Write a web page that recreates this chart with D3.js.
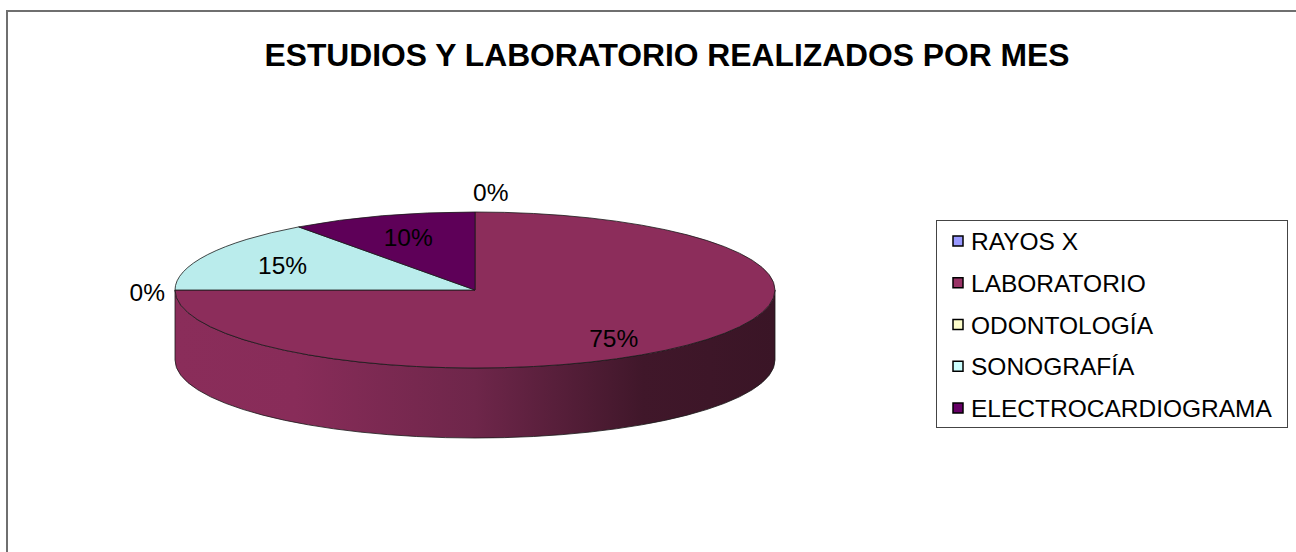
<!DOCTYPE html>
<meta charset="utf-8">
<script src="https://d3js.org/d3.v7.min.js"></script>
<style>
  body { margin: 0; background: #fff; }
  text { font-family: "Liberation Sans", Arial, sans-serif; }
</style>
<div id="chart"></div>
<script>
// data
var categories = ["RAYOS X", "LABORATORIO", "ODONTOLOGÍA", "SONOGRAFÍA", "ELECTROCARDIOGRAMA"];
var values = [0, 75, 0, 15, 10];
var colors = ["#9999FF", "#8C2D5B", "#FFFFCC", "#BAECEC", "#5E0058"];
var legendColors = ["#9999FF", "#993366", "#FFFFCC", "#CCFFFF", "#660066"];

var W = 1296, H = 552;
var cx = 475, cy = 290, rx = 300, ry = 78, depth = 70;

var svg = d3.select("#chart").append("svg")
    .attr("width", W).attr("height", H);

// outer frame (runs past the right and bottom edges)
svg.append("path")
    .attr("d", "M7,560 L7,11 L1300,11")
    .attr("fill", "none").attr("stroke", "#6f6f6f").attr("stroke-width", 2);

svg.append("text")
    .attr("x", 667).attr("y", 66)
    .attr("text-anchor", "middle")
    .style("font-size", "31.8px").style("font-weight", "bold")
    .text("ESTUDIOS Y LABORATORIO REALIZADOS POR MES");

// side gradient
var defs = svg.append("defs");
var grad = defs.append("linearGradient").attr("id", "side")
    .attr("gradientUnits", "userSpaceOnUse")
    .attr("x1", cx - rx).attr("x2", cx + rx).attr("y1", 0).attr("y2", 0);
grad.append("stop").attr("offset", "0%").attr("stop-color", "#8A2D5A");
grad.append("stop").attr("offset", "20%").attr("stop-color", "#882C59");
grad.append("stop").attr("offset", "50%").attr("stop-color", "#6E264A");
grad.append("stop").attr("offset", "78%").attr("stop-color", "#40172A");
grad.append("stop").attr("offset", "100%").attr("stop-color", "#3A1526");

var pie = d3.pie().sort(null).value(function(d) { return d; });
var arcs = pie(values);

function px(a, k) { return cx + rx * (k || 1) * Math.sin(a); }
function py(a, k) { return cy - ry * (k || 1) * Math.cos(a); }

// side walls (only the front half, angles pi/2..3pi/2)
var g = svg.append("g");
arcs.forEach(function(d, i) {
  if (d.value === 0) return;
  var a0 = Math.max(d.startAngle, Math.PI / 2);
  var a1 = Math.min(d.endAngle, 3 * Math.PI / 2);
  if (a1 <= a0) return;
  var large = (a1 - a0) > Math.PI ? 1 : 0;
  var p = "M" + px(a0) + "," + py(a0) +
    " A" + rx + "," + ry + " 0 " + large + " 1 " + px(a1) + "," + py(a1) +
    " L" + px(a1) + "," + (py(a1) + depth) +
    " A" + rx + "," + ry + " 0 " + large + " 0 " + px(a0) + "," + (py(a0) + depth) + " Z";
  g.append("path").attr("d", p)
    .attr("fill", i === 1 ? "url(#side)" : colors[i])
    .attr("stroke", "#1a1a1a").attr("stroke-width", 0.8);
});

// top faces
arcs.forEach(function(d, i) {
  if (d.value === 0) return;
  var large = (d.endAngle - d.startAngle) > Math.PI ? 1 : 0;
  var p = "M" + cx + "," + cy +
    " L" + px(d.startAngle) + "," + py(d.startAngle) +
    " A" + rx + "," + ry + " 0 " + large + " 1 " + px(d.endAngle) + "," + py(d.endAngle) + " Z";
  g.append("path").attr("d", p)
    .attr("fill", colors[i])
    .attr("stroke", "#1a1a1a").attr("stroke-width", 0.8);
});

// labels
var fmt = function(d) { return Math.round(d.value / d3.sum(values) * 100) + "%"; };
arcs.forEach(function(d, i) {
  var mid = (d.startAngle + d.endAngle) / 2;
  var t = svg.append("text").style("font-size", "24.5px").attr("fill", "#000").text(fmt(d));
  if (d.value === 0) {
    if (Math.cos(mid) > 0) {
      t.attr("x", px(mid) - 2).attr("y", py(mid) - 11).attr("text-anchor", "start");
    } else {
      t.attr("x", px(mid) - 10).attr("y", py(mid) + 11).attr("text-anchor", "end");
    }
  } else {
    var k = 0.72;
    var yy = py(mid, k) + (Math.cos(mid) < 0 ? 8 : 0);
    t.attr("x", px(mid, k) - (Math.sin(mid) > 0 ? 14 : 0)).attr("y", yy + 9).attr("text-anchor", "middle");
  }
});

// legend
var leg = svg.append("g");
leg.append("rect").attr("x", 936.5).attr("y", 220.5).attr("width", 351).attr("height", 207)
  .attr("fill", "#fff").attr("stroke", "#444").attr("stroke-width", 1);
var ly = d3.scalePoint().domain(categories).range([241, 408]);
categories.forEach(function(c, i) {
  leg.append("rect").attr("x", 953).attr("y", ly(c) - 5).attr("width", 10).attr("height", 10)
    .attr("fill", legendColors[i]).attr("stroke", "#000").attr("stroke-width", 1.5);
  leg.append("text").attr("x", 971).attr("y", ly(c) + 9)
    .style("font-size", "24.5px").text(c);
});
</script>
